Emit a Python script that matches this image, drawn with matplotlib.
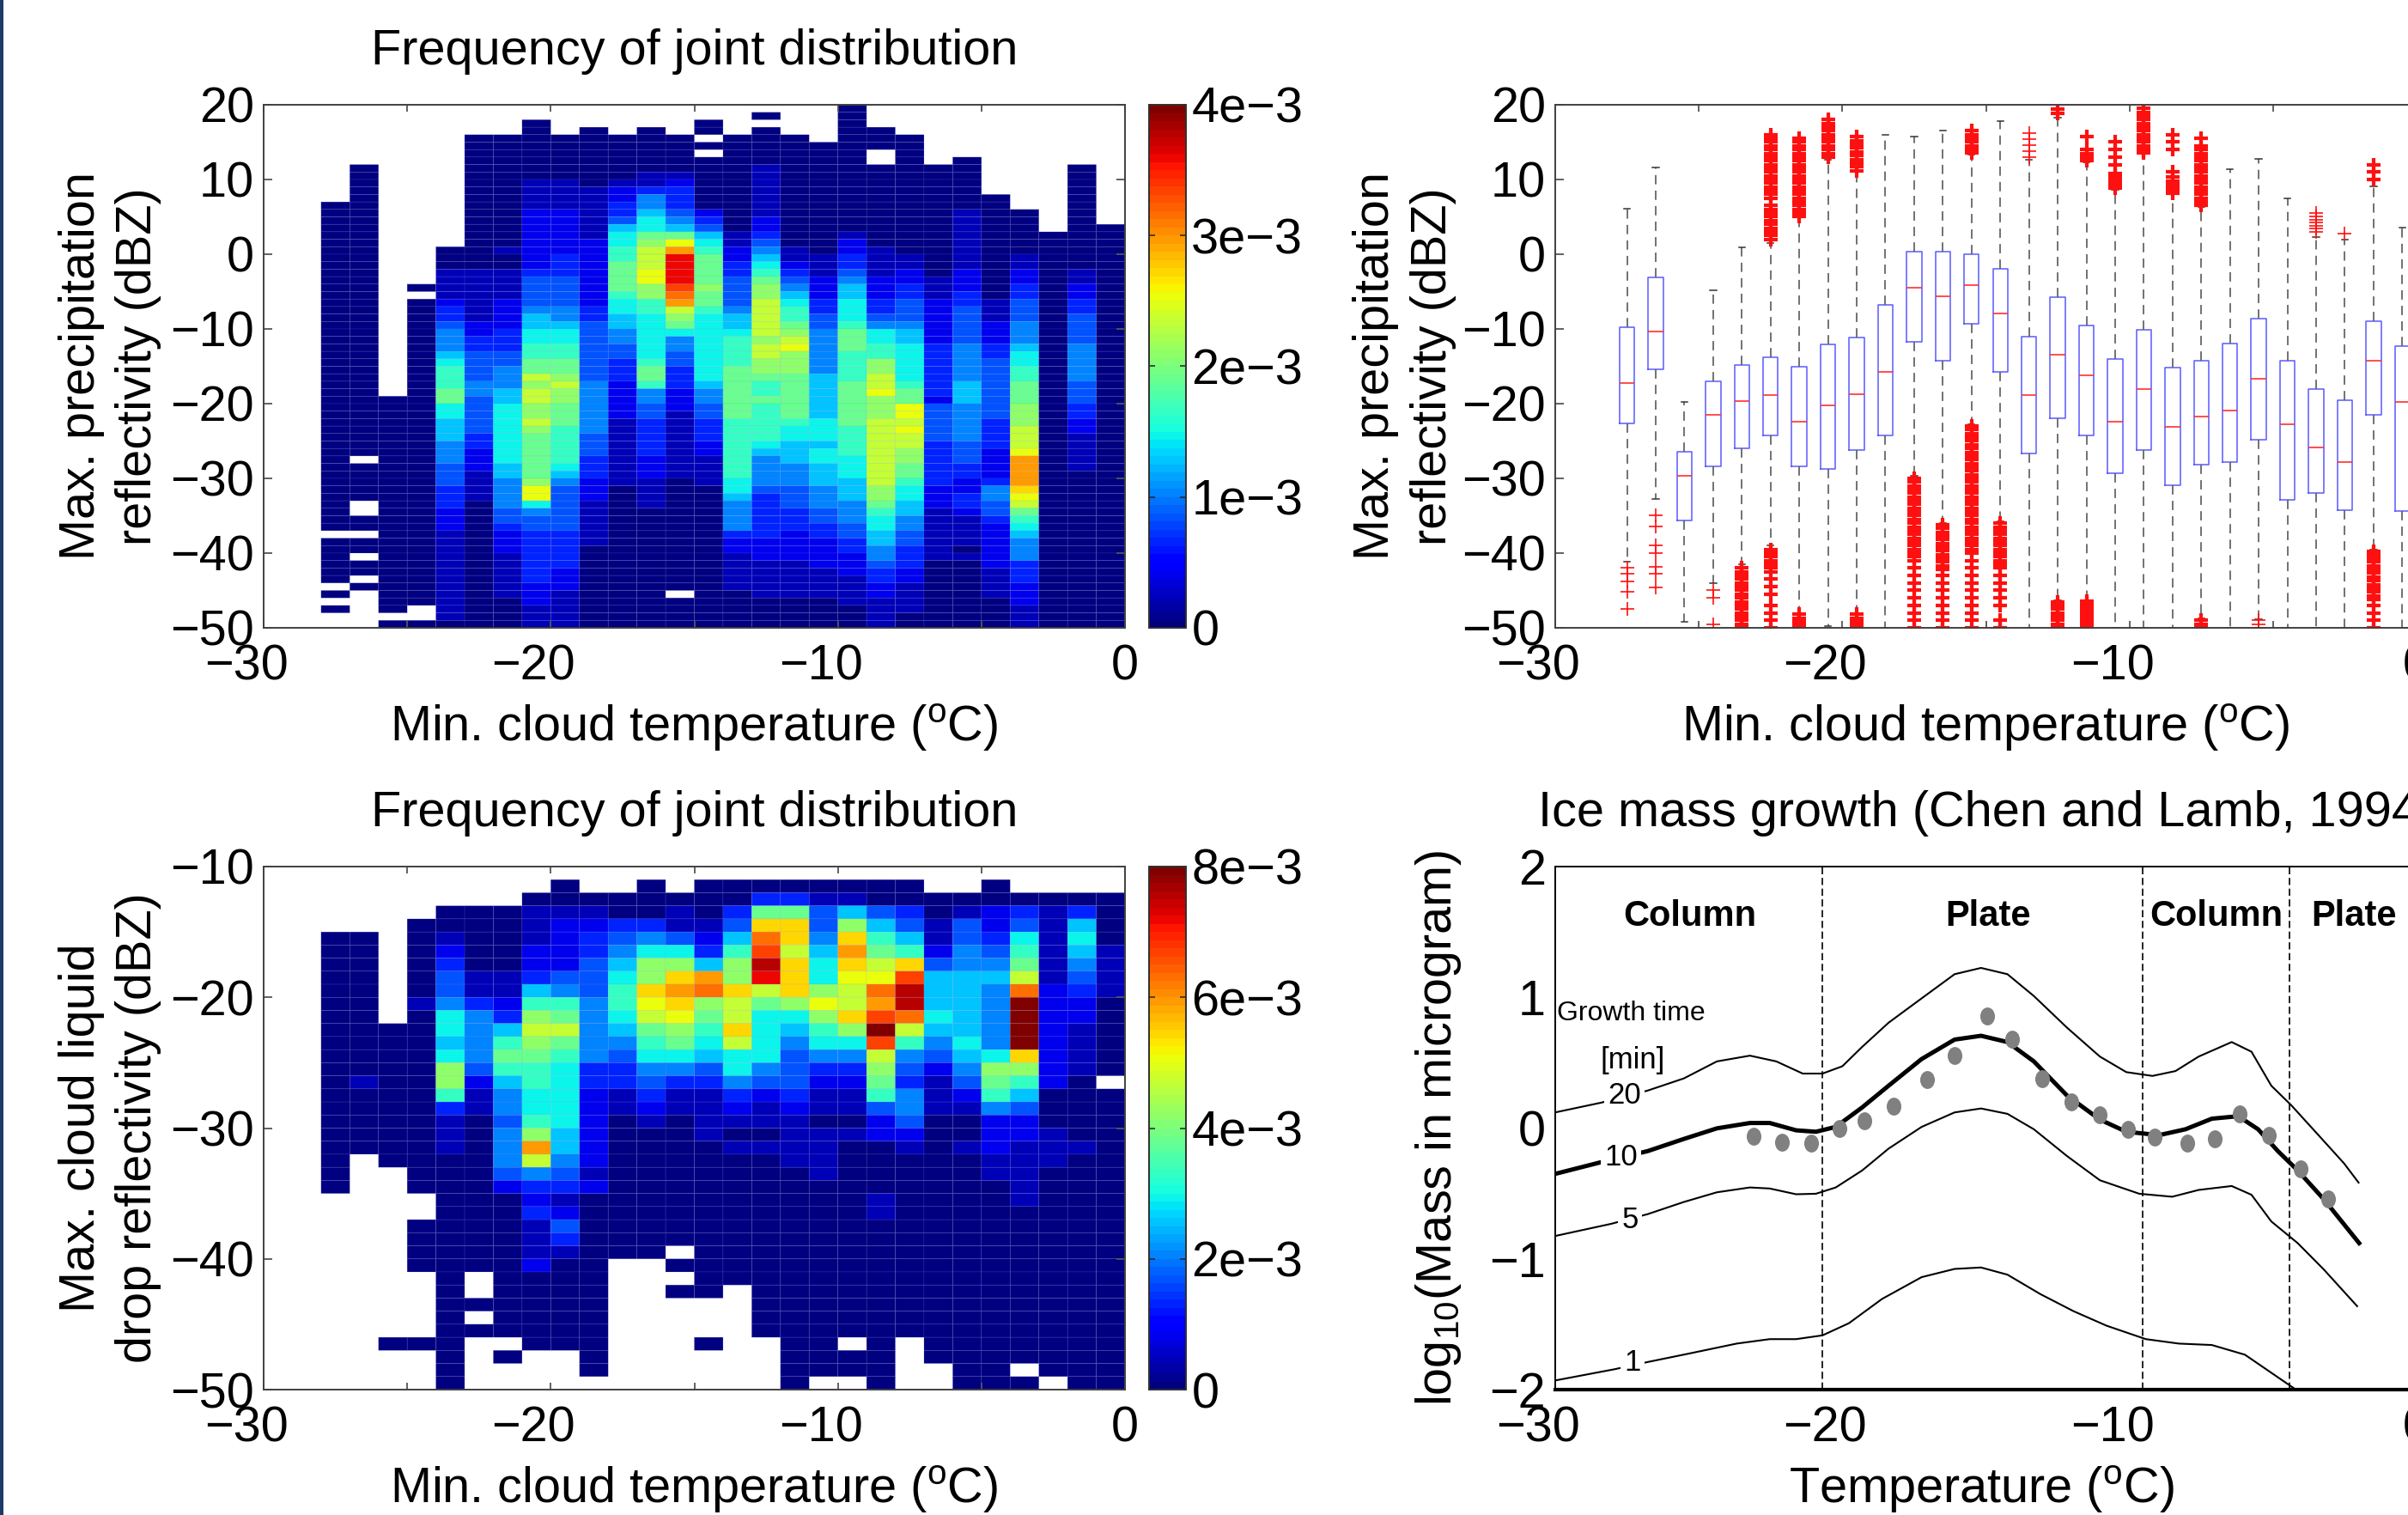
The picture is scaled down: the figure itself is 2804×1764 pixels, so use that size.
import numpy as np
import matplotlib
matplotlib.use("Agg")
import matplotlib.pyplot as plt
from matplotlib.patches import Rectangle
from matplotlib.transforms import ScaledTranslation, Affine2D
from matplotlib.markers import MarkerStyle

plt.rcParams["font.family"] = ["Liberation Sans", "DejaVu Sans"]
plt.rcParams["mathtext.default"] = "regular"

W, H = 2804, 1764
FS = 41.5

# colour levels: 20 steps from 0 to full scale, "." = no data
LEVELS = "0123456789abcdefghij"

# top-left panel: one string per temperature bin (-30..0), top row (20 dBZ) first
precip_columns = [
 ".......... .......... .......... .......... .......... .......... ..........",
 ".......... .......... .......... .......... .......... .......... ..........",
 ".......... ...0000000 0000000000 0000000000 0000000000 0000000.00 0000.0.0..",
 "........00 0000000000 0000000000 0000000000 0000000.00 000..00.00 .00.0.....",
 ".......... .......... .......... .........0 0000000000 0000000000 00000000.0",
 ".......... .......... ....0.0000 0000000000 0000000000 0000000000 0000000..0",
 ".......... .........0 0011112334 5556788899 7766655544 4333222111 1111111110",
 "....000000 0000000000 0011111112 2334444554 4444332221 1110000000 0000000000",
 "....000000 0000000001 0011112222 3334455566 7777777766 5555443222 1111110000",
 "..00000000 1111222222 2234444566 778899babb aaba999999 acc7544333 3333222111",
 "....000000 1111222222 3334444556 778899abaa 9998888876 5444444333 3322211111",
 "...0000000 0111111122 2222222334 4444444555 5555444333 2221111110 0000000000",
 "....000000 1223346778 8999987766 5544333222 2211111111 1000000000 0000000000",
 "...0000001 13556779ab bbccaa8877 7777899855 4433333222 1111000000 0000000000",
 "....000001 23334569ce hhhhgfeba9 7554433322 2111111111 0000000000 00000.0000",
 "..00.0.000 0000234678 9999a99877 7777777655 4433322111 1000000000 0000000000",
 "....000000 0000000112 2334444566 7888899999 9988888888 7765555322 1111100000",
 ".0.0000011 1111122345 6789aabbbb babbaa9889 8888876555 5433333322 2111110000",
 "....000000 0000000001 1234567889 abcaaa9999 9987766655 5444333222 2111110000",
 ".....00000 0000000000 1112223344 5555556666 6677767766 6555443322 2211110000",
 "0000000000 0000000122 3345667778 9998888999 9998888777 6665554433 2221111000",
 "...000..00 0000000001 1112223345 7788aabbca aabbbbbbbb baa9877665 5433221111",
 "....000000 0000000000 1122334445 6677777899 ccbcbbaa99 8776655443 3322111100",
 "........00 0000000000 0001112222 2233333332 4444433333 3222111111 1000000000",
 ".......000 0000111111 1122233444 4455555666 5555544433 2233211110 1000000000",
 ".......... ..00000000 0000001112 2233444444 4433332222 3554432222 2211110000",
 ".......... ....000000 1122334445 5567788999 aaabbbceee edcb987655 5333222111",
 ".......... .......000 0000000000 0000000000 0000000000 0000000000 0000000000",
 "........00 0000000000 0011223344 4455555444 3322111110 0000000000 0000000000",
 ".......... ......0000 0000000000 0000000000 0000000000 0000000000 0000000000",
]

# bottom-left panel: one string per reflectivity bin, top row (-10 dBZ) first
liquid_rows = [
 ".......... .......... ..........",
 ".......... 0..0.00000 000..0....",
 ".........0 0000000331 1000000000",
 "......0001 1100103994 6430123130",
 ".....00001 2233114dd4 a641424160",
 "..00.01001 2345426fd5 d861437170",
 "..00.02002 2357738gb6 e982548161",
 "..00.03002 246aa6aid7 dbd4559151",
 "..00.04113 447adeahd7 ccg666b141",
 "..00.04116 548defdbda bfi665f231",
 "..00.15328 858cdab9ac bei665j220",
 "..00.0753a 957bc9b77a dgf765j220",
 "..0000756b b569a8d768 ajb665j210",
 "..0000658a 955897b757 7g8575j210",
 "..00007599 8547767745 5b5467d210",
 "..0000a488 7335547543 3a425aa210",
 "..0100a268 7334335442 293149820.",
 "..00008157 7213113231 1851286000",
 "..00003157 7212112121 1451154000",
 "..00001048 7201011110 0240022000",
 "..0000105a 6200010011 1220022100",
 "..0000105e 6200001111 0010121110",
 "..0.00005b 5200000011 0000011100",
 "..0..00045 4100000001 0000011000",
 "..0..00023 3200000000 0000001000",
 "......0002 1000000000 0100001000",
 "......0003 2000000000 0100000000",
 ".....00001 4000000000 0000000000",
 ".....00001 3000000000 0000000000",
 ".....00001 1000.00000 0000000000",
 ".....00002 00..000000 0000000000",
 "......0.00 00...00000 0000000000",
 "......0.00 00..00.000 0000000000",
 "......0000 00.....000 0000000000",
 "......0.00 00.....000 0000000000",
 "......0000 00.....000 0000000000",
 "....000..0 00...0..00 .0.0000000",
 "......0.0. .0......00 00.0000000",
 "......0... .0......00 00..00.000",
 "......0... ........0. .0..000.00",
]

# top-right panel: box statistics per 1-degree bin
box_positions = [-27.5, -26.5, -25.5, -24.5, -23.5, -22.5, -21.5, -20.5, -19.5, -18.5,
                 -17.5, -16.5, -15.5, -14.5, -13.5, -12.5, -11.5, -10.5, -9.5, -8.5,
                 -7.5, -6.5, -5.5, -4.5, -3.5, -2.5, -1.5, -0.5]
box_q3 = [-9.8, -3.1, -26.4, -17.0, -14.8, -13.8, -15.1, -12.1, -11.1, -6.8,
          0.4, 0.4, 0.0, -2.0, -11.0, -5.7, -9.5, -14.0, -10.1, -15.2,
          -14.2, -12.0, -8.6, -14.2, -18.1, -19.5, -9.0, -12.3]
box_med = [-17.2, -10.3, -29.6, -21.5, -19.7, -18.9, -22.4, -20.2, -18.7, -15.8,
           -4.5, -5.6, -4.1, -7.9, -18.9, -13.4, -16.2, -22.4, -18.0, -23.1,
           -21.7, -20.9, -16.7, -22.8, -25.9, -27.8, -14.2, -19.8]
box_q1 = [-22.6, -15.4, -35.6, -28.4, -26.0, -24.2, -28.4, -28.7, -26.2, -24.3,
          -11.7, -14.2, -9.3, -15.7, -26.7, -22.0, -24.3, -29.3, -26.2, -30.9,
          -28.2, -27.8, -24.8, -32.9, -32.0, -34.2, -21.5, -34.4]
box_hi = [6.1, 11.6, -19.8, -4.8, 0.9, 1.5, 4.9, 12.6, 11.0, 16.0,
          15.7, 16.6, 13.3, 17.8, 12.6, 18.3, 12.3, 8.6, 13.4, 8.0,
          6.3, 11.4, 12.8, 7.5, 2.3, 1.9, 9.1, 3.6]
box_lo = [-41.2, -32.8, -49.2, -44.0, -41.5, -39.0, -48.0, -49.8, -48.0, -50.0,
          -29.6, -36.0, -22.8, -35.8, -50.0, -46.3, -46.3, -50.0, -50.0, -50.0,
          -48.7, -50.0, -48.8, -50.0, -50.0, -50.0, -39.5, -50.0]
box_fliers = [
 [-42, -42.8, -43.8, -45.2, -47.5],
 [-35, -36.4, -39, -40, -41.8, -42.8, -44.6],
 [],
 [-45, -46, -49.5],
 [-42, -42.5, -43, -43.5, -44, -44.5, -45, -45.5, -46, -46.5, -47, -47.5, -48, -48.5, -49, -49.5, -50],
 [2, 2.5, 3, 3.5, 4, 4.5, 5, 5.5, 6, 6.5, 7.5, 8, 8.5, 9, 9.5, 10, 10.5, 11, 11.5, 12, 12.5, 13, 13.5, 14, 14.5, 15, 15.5, 16,
  -39.5, -40, -40.5, -41, -41.5, -42, -42.5, -43.5, -44.5, -45.5, -47, -48, -49, -50],
 [5, 5.5, 6, 6.5, 7, 7.5, 8, 8.5, 9, 9.5, 10, 10.5, 11, 11.5, 12, 12.5, 13, 13.5, 14, 14.5, 15, 15.5, -48.2, -48.7, -49.2, -49.7, -50],
 [13, 13.5, 14, 14.5, 15, 15.5, 16, 16.5, 17, 17.5, 18],
 [11.2, 11.7, 12.2, 12.7, 13.2, 13.7, 14.2, 14.7, 15.2, 15.7, -48.2, -48.7, -49.2, -49.7, -50],
 [],
 [-30, -30.5, -31, -31.5, -32, -32.5, -33, -33.5, -34, -34.5, -35, -35.5, -36, -36.5, -37, -37.5, -38, -38.5, -39, -39.5, -40,
  -40.5, -41, -42, -43, -44, -45, -46, -47, -48, -49, -50],
 [-36.2, -36.7, -37.2, -37.7, -38.2, -38.7, -39.2, -39.7, -40.2, -40.7, -41.2, -41.7, -42.2, -43, -44, -45, -46, -47, -48, -49, -50],
 [13.6, 14, 14.5, 15, 15.5, 16, 16.5,
  -23, -23.5, -24, -24.5, -25, -25.5, -26, -26.5, -27, -27.5, -28, -28.5, -29, -29.5, -30, -30.5, -31, -31.5, -32, -32.5, -33, -33.5,
  -34, -34.5, -35, -35.5, -36, -36.5, -37, -37.5, -38, -38.5, -39, -39.5, -40, -41, -42, -43, -44, -45, -46, -47, -48, -49, -50],
 [-36, -36.5, -37, -37.5, -38, -38.5, -39, -39.5, -40, -40.5, -41, -41.5, -42, -43, -44, -45, -46, -47, -49, -50],
 [13, 13.8, 14.6, 15.4, 16.2],
 [18.8, 19.4, -46.6, -47, -47.5, -48, -48.5, -49, -49.5, -50],
 [12.5, 13, 13.5, 14, 15.7, -46.4, -46.8, -47.2, -47.6, -48, -48.4, -48.8, -49.2, -49.6, -50],
 [8.8, 9.2, 9.6, 10, 10.4, 10.8, 12, 13, 14, 15],
 [13.6, 14, 14.5, 15, 15.5, 16, 16.5, 17, 17.5, 18, 18.5, 19, 19.5],
 [8.2, 8.6, 9, 9.4, 9.8, 10.4, 11, 14, 15, 16],
 [6.5, 7, 7.5, 8, 8.5, 9, 9.5, 10, 10.5, 11, 11.5, 12, 12.5, 13, 13.5, 14, 14.5, 15.5, -49, -49.5, -50],
 [],
 [-49, -49.5, -50],
 [],
 [3, 3.4, 3.8, 4.2, 4.6, 5, 5.5],
 [2.8],
 [10, 11, 12, -39.8, -40.2, -40.7, -41.2, -41.7, -42.2, -42.7, -43.2, -43.7, -44.2, -44.7, -45.2, -45.7, -46.2, -47, -48, -49, -50],
 [],
]

# bottom-right panel: growth curves and measured points
t20 = [-30, -28.39, -26.78, -25.52, -24.37, -23.22, -22.30, -21.38, -20.69, -20.0, -19.31, -18.39, -17.24, -16.09, -15.17,
       -14.25, -13.33, -12.18, -11.03, -10.11, -9.2, -8.4, -7.59, -6.44, -5.75, -5.06, -4.37, -3.45, -2.53, -2.02]
m20 = [0.12, 0.195, 0.287, 0.38, 0.51, 0.554, 0.51, 0.417, 0.417, 0.473, 0.621, 0.806, 0.992, 1.177, 1.225,
       1.177, 1.01, 0.769, 0.547, 0.428, 0.399, 0.436, 0.547, 0.658, 0.584, 0.324, 0.176, -0.046, -0.269, -0.417]
t10 = [-30, -28.39, -26.78, -25.52, -24.37, -23.22, -22.53, -21.61, -20.92, -20.23, -19.31, -18.39, -17.24, -16.09, -15.17,
       -14.25, -13.33, -12.18, -11.03, -10.11, -8.97, -8.05, -7.13, -6.21, -5.52, -4.83, -4.14, -3.22, -2.0]
m10 = [-0.35, -0.26, -0.176, -0.083, -0.002, 0.039, 0.039, -0.017, -0.028, 0.009, 0.158, 0.324, 0.528, 0.677, 0.706,
       0.658, 0.51, 0.25, 0.065, -0.028, -0.054, -0.009, 0.072, 0.091, -0.009, -0.176, -0.324, -0.547, -0.88]
t5 = [-30, -28.05, -26.78, -25.52, -24.37, -23.22, -22.53, -21.61, -20.92, -20.23, -19.31, -18.39, -17.24, -16.09, -15.17,
      -14.25, -13.33, -12.18, -11.03, -9.66, -8.51, -7.59, -6.44, -5.75, -5.06, -4.14, -3.22, -2.07]
m5 = [-0.825, -0.732, -0.658, -0.565, -0.491, -0.454, -0.462, -0.506, -0.502, -0.454, -0.324, -0.157, 0.009, 0.12, 0.15,
      0.109, -0.009, -0.213, -0.399, -0.502, -0.525, -0.473, -0.443, -0.51, -0.714, -0.88, -1.084, -1.362]
t1 = [-30, -27.93, -26.78, -25.29, -23.68, -22.53, -21.61, -20.69, -19.77, -18.62, -17.24, -16.09, -15.17,
      -14.25, -13.10, -11.95, -10.8, -9.43, -8.28, -7.13, -5.98, -4.25]
m1 = [-1.93, -1.844, -1.789, -1.722, -1.648, -1.614, -1.614, -1.585, -1.492, -1.307, -1.14, -1.077, -1.066,
      -1.121, -1.27, -1.4, -1.511, -1.614, -1.648, -1.659, -1.733, -1.993]
dots_t = [-23.10, -22.09, -21.08, -20.11, -19.24, -18.23, -17.06, -16.09, -14.97, -14.09, -13.03, -12.02, -11.03,
          -10.05, -9.13, -7.98, -7.03, -6.16, -5.13, -4.05, -3.08]
dots_m = [-0.065, -0.106, -0.113, -0.002, 0.054, 0.165, 0.369, 0.554, 0.858, 0.677, 0.38, 0.202, 0.102,
          -0.009, -0.069, -0.113, -0.084, 0.109, -0.054, -0.31, -0.539]
habit_edges = [-20.71, -9.54, -4.44]
habit_labels = [("Column", -25.3), ("Plate", -14.94), ("Column", -6.97), ("Plate", -2.18)]
curve_labels = [("20", -27.59, 0.25), ("10", -27.7, -0.224), ("5", -27.4, -0.706), ("1", -27.31, -1.79)]

x_ticks = [-30, -25, -20, -15, -10, -5, 0]
x_tick_labels = ["\u221230", "", "\u221220", "", "\u221210", "", "0"]


def decode(s):
    return [np.nan if ch == "." else LEVELS.index(ch) / 19.0 for ch in s.replace(" ", "")]


def add_axes(left, top, right, bottom):
    return fig.add_axes([left / W, 1 - bottom / H, (right - left) / W, (bottom - top) / H])


def style(ax, xticks, yticks, ylabels, ticks=True):
    ax.set_xticks(xticks)
    ax.set_xticklabels(x_tick_labels if len(xticks) == 7 else ["\u221230", "\u221220", "\u221210", "0"])
    ax.set_yticks(yticks)
    ax.set_yticklabels(ylabels)
    ln = 6 if ticks else 0
    ax.tick_params(axis="x", direction="in", top=ticks, bottom=ticks, length=ln, width=1.3, color="#555555",
                   labelsize=FS, pad=13.5)
    ax.tick_params(axis="y", direction="in", left=ticks, right=ticks, length=ln + 1, width=1.3, color="#555555",
                   labelsize=FS, pad=8)
    for sp in ax.spines.values():
        sp.set_color("#404040")
        sp.set_linewidth(1.4)
    off = ScaledTranslation(-20 / 100, 0, fig.dpi_scale_trans)
    for lab in ax.get_xticklabels():
        if lab.get_text().startswith("\u2212"):
            lab.set_transform(lab.get_transform() + off)


def labels(ax, title, xlabel, ylabel, ylab_x):
    ax.set_xlabel(xlabel, fontsize=FS)
    ax.xaxis.set_label_coords(0.5, -0.142)
    ax.set_ylabel(ylabel, fontsize=FS, linespacing=1.3)
    ax.yaxis.set_label_coords(ylab_x, 0.5)
    if title:
        ax.set_title(title, fontsize=FS, pad=34)


def colorbar(mesh, top, bottom, ticks, ticklabels):
    cax = add_axes(1338, top, 1381, bottom)
    cb = fig.colorbar(mesh, cax=cax, ticks=ticks)
    cb.set_ticklabels(ticklabels)
    cax.tick_params(direction="in", left=True, right=True, length=5, width=1.1, labelsize=FS, pad=4.5, color="#222222")
    cb.outline.set_linewidth(1.4)
    cb.outline.set_edgecolor("#303030")


fig = plt.figure(figsize=(W / 100, H / 100), dpi=100, facecolor="white")
fig.patches.append(Rectangle((0, 0), 3.5 / W, 1, transform=fig.transFigure, facecolor="#1f3a68", edgecolor="none"))

cmap = plt.get_cmap("jet", 64)
temp_edges = np.arange(-30, 1, 1)
XLAB = "Min. cloud temperature ($^{o}$C)"
GRID = (0.5, 0.5, 0.9, 0.2)

# ---- top left
ax1 = add_axes(307, 122, 1310, 731)
precip = np.ma.masked_invalid(np.array([decode(c) for c in precip_columns]).T) * 4e-3
mesh1 = ax1.pcolor(temp_edges, np.arange(20, -51, -1), precip, cmap=cmap, vmin=0, vmax=4e-3,
                   edgecolors=GRID, linewidth=0.5)
ax1.set_xlim(-30, 0)
ax1.set_ylim(-50, 20)
style(ax1, x_ticks, np.arange(-50, 21, 10), ["\u221250", "\u221240", "\u221230", "\u221220", "\u221210", "0", "10", "20"])
labels(ax1, "Frequency of joint distribution", XLAB, "Max. precipitation\nreflectivity (dBZ)", -0.1185)
colorbar(mesh1, 122, 731, [0, 1e-3, 2e-3, 3e-3, 4e-3], ["0", "1e\u22123", "2e\u22123", "3e\u22123", "4e\u22123"])

# ---- bottom left
ax3 = add_axes(307, 1009, 1310, 1618)
liquid = np.ma.masked_invalid(np.array([decode(r) for r in liquid_rows])) * 8e-3
mesh3 = ax3.pcolor(temp_edges, np.arange(-10, -51, -1), liquid, cmap=cmap, vmin=0, vmax=8e-3,
                   edgecolors=GRID, linewidth=0.5)
ax3.set_xlim(-30, 0)
ax3.set_ylim(-50, -10)
style(ax3, x_ticks, np.arange(-50, -9, 10), ["\u221250", "\u221240", "\u221230", "\u221220", "\u221210"])
labels(ax3, "Frequency of joint distribution", XLAB, "Max. cloud liquid\ndrop reflectivity (dBZ)", -0.1185)
colorbar(mesh3, 1009, 1618, [0, 2e-3, 4e-3, 6e-3, 8e-3], ["0", "2e\u22123", "4e\u22123", "6e\u22123", "8e\u22123"])

# ---- top right
ax2 = add_axes(1811, 122, 2814, 731)
stats = [dict(med=m, q1=a, q3=b, whislo=lo, whishi=hi, fliers=f)
         for m, a, b, lo, hi, f in zip(box_med, box_q1, box_q3, box_lo, box_hi, box_fliers)]
parts = ax2.bxp(stats, positions=box_positions, widths=0.52, manage_ticks=False,
                boxprops=dict(color="#5a5aff", linewidth=1.1),
                medianprops=dict(color="#ff3030", linewidth=1.2),
                whiskerprops=dict(color="#666666", linewidth=1.3, linestyle=(0, (6, 4))),
                capprops=dict(color="#333333", linewidth=1.1), capwidths=0.22,
                flierprops=dict(marker="+", markeredgecolor="#ff1010", markersize=12, markeredgewidth=1.2))
for line, vals in zip(parts["fliers"], box_fliers):
    if len(vals) >= 10:
        line.set_markeredgewidth(3.0)
ax2.set_xlim(-30, 0)
ax2.set_ylim(-50, 20)
style(ax2, x_ticks, np.arange(-50, 21, 10), ["\u221250", "\u221240", "\u221230", "\u221220", "\u221210", "0", "10", "20"])
labels(ax2, None, XLAB, "Max. precipitation\nreflectivity (dBZ)", -0.115)

# ---- bottom right
ax4 = add_axes(1811, 1009, 2814, 1618)
for t, m, lw in [(t20, m20, 1.5), (t10, m10, 3.6), (t5, m5, 1.5), (t1, m1, 1.5)]:
    ax4.plot(t, m, color="black", lw=lw, solid_joinstyle="round", zorder=2)
ax4.plot(dots_t, dots_m, ls="none", color="#808080", ms=15, mew=0,
         marker=MarkerStyle("o", transform=Affine2D().scale(0.82, 1.0)), zorder=3)
for t in habit_edges:
    ax4.axvline(t, color="black", lw=1.2, ls=(0, (5, 2.5)), zorder=1)
for txt, t in habit_labels:
    ax4.text(t, 1.62, txt, fontsize=30, fontweight="bold", ha="center", va="center", zorder=5)
for txt, t, m in curve_labels:
    ax4.text(t, m, txt, fontsize=25, ha="center", va="center", zorder=4,
             bbox=dict(facecolor="white", edgecolor="none", pad=3))
ax4.text(-27.36, 0.88, "Growth time", fontsize=23, ha="center", va="center")
ax4.text(-27.31, 0.52, "[min]", fontsize=25, ha="center", va="center")
ax4.set_xlim(-30, 0)
ax4.set_ylim(-2, 2)
style(ax4, [-30, -20, -10, 0], [-2, -1, 0, 1, 2], ["\u22122", "\u22121", "0", "1", "2"], ticks=False)
ax4.spines["bottom"].set_linewidth(3)
ax4.spines["bottom"].set_color("black")
ax4.spines["left"].set_color("black")
ax4.spines["top"].set_color("black")
ax4.set_xlabel("Temperature ($^{o}$C)", fontsize=FS)
ax4.xaxis.set_label_coords(0.495, -0.142)
ax4.set_ylabel("log$_{10}$(Mass in microgram)", fontsize=FS)
ax4.yaxis.set_label_coords(-0.107, 0.5)
ax4.set_title("Ice mass growth (Chen and Lamb, 1994)", fontsize=FS, pad=34, loc="left", x=-0.02)

fig.savefig("out.png", dpi=100)
